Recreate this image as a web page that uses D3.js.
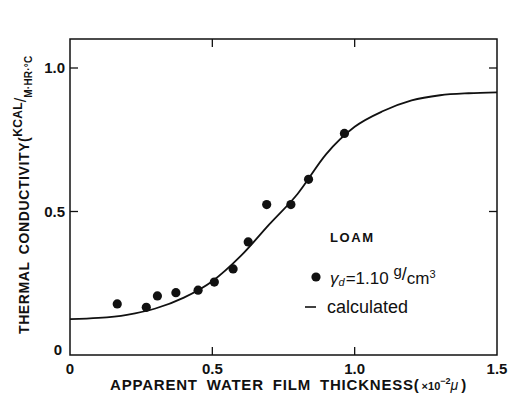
<!DOCTYPE html>
<html>
<head>
<meta charset="utf-8">
<script src="https://cdn.jsdelivr.net/npm/d3@7"></script>
<style>
  html, body { margin: 0; padding: 0; background: #fff; }
  svg { display: block; font-family: "Liberation Sans", Arial, sans-serif; }
</style>
</head>
<body>
<div id="chart"></div>
<script>
// measured points (loam, gamma_d = 1.10 g/cm3)
const obsX = [0.166, 0.268, 0.307, 0.372, 0.450, 0.507, 0.573, 0.626, 0.691, 0.776, 0.838, 0.964];
const obsY = [0.178, 0.166, 0.206, 0.217, 0.226, 0.254, 0.300, 0.394, 0.524, 0.524, 0.612, 0.772];

// calculated curve
const calcX = [0, 0.1, 0.2, 0.3, 0.4, 0.5, 0.6, 0.7, 0.8, 0.9, 1.0, 1.1, 1.2, 1.3, 1.4, 1.5];
const calcY = [0.125, 0.129, 0.14, 0.162, 0.2, 0.257, 0.345, 0.455, 0.562, 0.70, 0.795, 0.85, 0.887, 0.905, 0.912, 0.915];

const xTicks = [0, 0.5, 1.0, 1.5];
const xTickLabels = ["0", "0.5", "1.0", "1.5"];
const yTicks = [0, 0.5, 1.0];
const yTickLabels = ["0", "0.5", "1.0"];

(function () {
  const width = 509, height = 403;
  const left = 70, right = 497, top = 39, bottom = 355;

  const x = d3.scaleLinear().domain([0, 1.5]).range([left, right]);
  const y = d3.scaleLinear().domain([0, 1.0]).range([bottom, 68]);

  const svg = d3.select("#chart").append("svg")
    .attr("width", width).attr("height", height);

  const ink = "#111";

  // frame
  svg.append("rect")
    .attr("x", left).attr("y", top)
    .attr("width", right - left).attr("height", bottom - top)
    .attr("fill", "none").attr("stroke", ink).attr("stroke-width", 1.5);

  // inward ticks on all four sides
  const tickLen = 8;
  const g = svg.append("g").attr("stroke", ink).attr("stroke-width", 1.3);
  g.selectAll(".xb").data(xTicks.slice(1, -1)).join("line")
    .attr("x1", d => x(d)).attr("x2", d => x(d))
    .attr("y1", bottom).attr("y2", bottom - tickLen);
  g.selectAll(".xt").data(xTicks.slice(1, -1)).join("line")
    .attr("x1", d => x(d)).attr("x2", d => x(d))
    .attr("y1", top).attr("y2", top + tickLen);
  g.selectAll(".yl").data(yTicks.slice(1)).join("line")
    .attr("y1", d => y(d)).attr("y2", d => y(d))
    .attr("x1", left).attr("x2", left + tickLen);
  g.selectAll(".yr").data(yTicks.slice(1)).join("line")
    .attr("y1", d => y(d)).attr("y2", d => y(d))
    .attr("x1", right).attr("x2", right - tickLen);

  // tick labels
  svg.append("g").selectAll("text").data(xTicks).join("text")
    .attr("x", d => x(d)).attr("y", bottom + 19)
    .attr("text-anchor", "middle")
    .attr("font-size", 15).attr("font-weight", "bold").attr("fill", ink)
    .text((d, i) => xTickLabels[i]);

  svg.append("g").selectAll("text").data(yTicks).join("text")
    .attr("x", (d) => d === 0 ? left - 8 : left - 5)
    .attr("y", d => d === 0 ? y(d) : y(d) + 5)
    .attr("text-anchor", "end")
    .attr("font-size", 15).attr("font-weight", "bold").attr("fill", ink)
    .text((d, i) => yTickLabels[i]);

  // calculated curve
  const line = d3.line()
    .x((d, i) => x(calcX[i]))
    .y((d, i) => y(calcY[i]))
    .curve(d3.curveMonotoneX);
  svg.append("path")
    .datum(calcX)
    .attr("d", line)
    .attr("fill", "none").attr("stroke", ink).attr("stroke-width", 1.8);

  // observed points
  svg.append("g").selectAll("circle").data(obsX).join("circle")
    .attr("cx", d => x(d))
    .attr("cy", (d, i) => y(obsY[i]))
    .attr("r", 4.6).attr("fill", ink);

  // x title
  const xt = svg.append("text")
    .attr("x", 110).attr("y", 390)
    .attr("font-size", 15).attr("font-weight", "bold").attr("fill", ink)
    .attr("letter-spacing", 0.8).attr("word-spacing", 4);
  xt.append("tspan").text("APPARENT WATER FILM THICKNESS(");
  xt.append("tspan").attr("font-size", 11).attr("letter-spacing", 0).attr("dx", 2).text("×10");
  xt.append("tspan").attr("font-size", 9).attr("dy", -6).attr("letter-spacing", 0).text("−2");
  xt.append("tspan").attr("dy", 6).attr("font-size", 14).attr("font-weight", "normal")
    .attr("font-style", "italic").attr("letter-spacing", 0).text("μ");
  xt.append("tspan").attr("font-size", 15).attr("letter-spacing", 0).attr("dx", 3).text(")");

  // y title
  const yt = svg.append("text")
    .attr("transform", "translate(29,334) rotate(-90)")
    .attr("font-size", 14).attr("font-weight", "bold").attr("fill", ink)
    .attr("letter-spacing", 0.6).attr("word-spacing", 3);
  yt.append("tspan").text("THERMAL CONDUCTIVITY(");
  yt.append("tspan").attr("font-size", 12).attr("dy", -7).attr("letter-spacing", 0.3).text("KCAL");
  yt.append("tspan").attr("font-size", 16).attr("font-weight", "normal").attr("dy", 4).attr("letter-spacing", 0).text("/");
  yt.append("tspan").attr("font-size", 10).attr("dy", 6).attr("letter-spacing", 0.2).text("M·HR·°C");

  // legend
  svg.append("text")
    .attr("x", 330).attr("y", 242)
    .attr("font-size", 13).attr("font-weight", "bold").attr("fill", ink)
    .attr("letter-spacing", 1.6)
    .text("LOAM");

  svg.append("circle").attr("cx", 316).attr("cy", 277).attr("r", 4.6).attr("fill", ink);
  const lg = svg.append("text")
    .attr("x", 330).attr("y", 284)
    .attr("font-size", 17).attr("fill", ink);
  lg.append("tspan").attr("font-style", "italic").text("γ");
  lg.append("tspan").attr("font-size", 11).attr("font-style", "italic").attr("dy", 2).text("d");
  lg.append("tspan").attr("dy", -2).attr("dx", 1).text("=1.10 ");
  lg.append("tspan").attr("font-size", 15).attr("dy", -8).text("g");
  lg.append("tspan").attr("font-size", 18).attr("dy", 4).text("/");
  lg.append("tspan").attr("dy", 4).text("cm");
  lg.append("tspan").attr("font-size", 11).attr("dy", -6).text("3");

  svg.append("line")
    .attr("x1", 305).attr("x2", 316).attr("y1", 307).attr("y2", 307)
    .attr("stroke", ink).attr("stroke-width", 1.6);
  svg.append("text")
    .attr("x", 327).attr("y", 313)
    .attr("font-size", 18).attr("fill", ink)
    .text("calculated");
})();
</script>
</body>
</html>
